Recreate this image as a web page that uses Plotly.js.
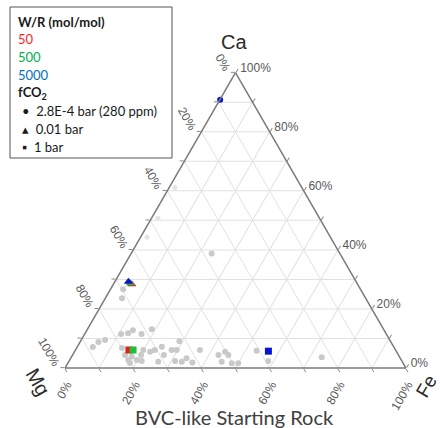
<!DOCTYPE html>
<html>
<head>
<meta charset="utf-8">
<script src="https://cdn.plot.ly/plotly-3.0.1.min.js"></script>
<style>html,body{margin:0;padding:0;background:#fff;}#chart{width:441px;height:428px;}</style>
</head>
<body>
<div id="chart"></div>
<script>
// Background (grey) compositions, percent
const grayCa = [26.7, 23.6, 38.8, 11.5, 11.8, 12.8, 11.5, 13.1, 9.5, 8.8, 7.1, 6.8, 4.4, 3.9, 2.7, 2.7, 6.1, 5.5, 6.1, 4.4, 1.7, 2.4, 2.1, 7.2, 4.4, 6.1, 6.1, 9.1, 2.4, 2.1, 3.3, 1.9, 6.1, 4.4, 5.5, 4.4, 2.1, 1.6, 1.6, 5.8, 2.4, 3.6];
const grayMg = [69.6, 71.5, 37.6, 77.8, 75.6, 73.7, 71.8, 68.0, 83.5, 85.8, 88.3, 79.9, 80.2, 78.5, 77.6, 80.1, 74.0, 72.3, 70.6, 75.5, 80.1, 76.3, 71.6, 68.0, 68.8, 65.7, 64.2, 61.9, 66.5, 64.7, 62.7, 61.7, 57.4, 52.8, 50.3, 49.9, 53.0, 50.3, 48.4, 40.9, 39.2, 22.9];
const grayFe = [3.7, 4.9, 23.6, 10.7, 12.6, 13.5, 16.7, 18.9, 7.0, 5.4, 4.6, 13.3, 15.4, 17.6, 19.7, 17.2, 19.9, 22.2, 23.3, 20.1, 18.2, 21.3, 26.3, 24.8, 26.8, 28.2, 29.7, 29.0, 31.1, 33.2, 34.0, 36.4, 36.5, 42.8, 44.2, 45.7, 44.9, 48.1, 50.0, 53.3, 58.4, 73.5];
// faint background points near the Ca-Mg edge
const faintCa = [61.1, 50.7, 44.3];
const faintMg = [37.2, 47.4, 53.8];
const faintFe = [1.7, 1.9, 1.9];

// Model results: [W/R 50, W/R 500, W/R 5000]
const wrLabels = ['50', '500', '5000'];
const wrColors = ['#e01b1b', '#1fbf3a', '#0a14d0'];
const wrTextColors = ['#ff1f1f', '#00b050', '#0070c0'];
// fCO2 = 2.8E-4 bar (circle) -- only W/R 5000 shown
const circCa = [90.8];
const circMg = [9.1];
const circFe = [0.1];
// fCO2 = 0.01 bar (triangle)
const triCa = [28.4, 28.7, 29.2];
const triMg = [66.2, 66.5, 66.8];
const triFe = [5.4, 4.8, 4.0];
// fCO2 = 1 bar (square)
const sqCa = [6.1, 6.1, 5.7];
const sqMg = [78.2, 77.0, 37.5];
const sqFe = [15.7, 16.9, 56.8];

const tickVals = [0, 10, 20, 30, 40, 50, 60, 70, 80, 90, 100];
const tickText = ['100%', ' ', '80%', ' ', '60%', ' ', '40%', ' ', '20%', ' ', '0%'];

const traces = [];
traces.push({type: 'scatterternary', mode: 'markers', a: faintCa, b: faintMg, c: faintFe,
  marker: {color: '#e4e4e4', size: 5}, hoverinfo: 'skip', showlegend: false, cliponaxis: false});
traces.push({type: 'scatterternary', mode: 'markers', a: grayCa, b: grayMg, c: grayFe,
  marker: {color: '#c9c9c9', size: 6}, showlegend: false, cliponaxis: false});
for (let i = 0; i < 3; i++) {
  traces.push({type: 'scatterternary', mode: 'markers', name: 'W/R ' + wrLabels[i] + ', 1 bar',
    a: [sqCa[i]], b: [sqMg[i]], c: [sqFe[i]],
    marker: {symbol: 'square', color: wrColors[i], size: 7}, showlegend: false, cliponaxis: false});
}
for (let i = 0; i < 3; i++) {
  traces.push({type: 'scatterternary', mode: 'markers', name: 'W/R ' + wrLabels[i] + ', 0.01 bar',
    a: [triCa[i]], b: [triMg[i]], c: [triFe[i]],
    marker: {symbol: 'triangle-up', color: wrColors[i], size: 8}, showlegend: false, cliponaxis: false});
}
traces.push({type: 'scatterternary', mode: 'markers', name: 'W/R 5000, 2.8E-4 bar',
  a: circCa, b: circMg, c: circFe,
  marker: {symbol: 'circle', color: wrColors[2], size: 6}, showlegend: false, cliponaxis: false});

const W = 441, H = 428;
const px = x => x / W, py = y => 1 - y / H;

function axis(angle) {
  return {
    tickmode: 'array', tickvals: tickVals, ticktext: tickText,
    tickangle: angle,
    ticks: 'outside', ticklen: 4, tickcolor: '#8a8a8a', tickwidth: 1,
    tickfont: {family: 'Liberation Sans, Arial, sans-serif', size: 12, color: '#595959'},
    showline: true, linecolor: '#7a7a7a', linewidth: 1.5,
    showgrid: true, gridcolor: '#e1e1e1', gridwidth: 1,
    title: {text: ''}
  };
}

const legendFont = 'Lato, Open Sans, sans-serif';
const legendLines = [
  {t: '<b>W/R (mol/mol)</b>', y: 22, c: '#1a1a1a', x: 16},
  {t: wrLabels[0], y: 39, c: wrTextColors[0], x: 16},
  {t: wrLabels[1], y: 57, c: wrTextColors[1], x: 16},
  {t: wrLabels[2], y: 75, c: wrTextColors[2], x: 16},
  {t: '<b>fCO<sub>2</sub></b>', y: 93, c: '#1a1a1a', x: 16},
  {t: '\u2022  2.8E-4 bar (280 ppm)', y: 111, c: '#1a1a1a', x: 20},
  {t: '\u25B4  0.01 bar', y: 129, c: '#1a1a1a', x: 20},
  {t: '\u25AA  1 bar', y: 147, c: '#1a1a1a', x: 20}
];

const annotations = legendLines.map(l => ({
  text: l.t, xref: 'paper', yref: 'paper', x: px(l.x), y: py(l.y),
  xanchor: 'left', yanchor: 'middle', showarrow: false,
  font: {family: legendFont, size: 13, color: l.c}
}));
annotations.push({text: 'Ca', xref: 'paper', yref: 'paper', x: px(234), y: py(42), xanchor: 'center', yanchor: 'middle',
  showarrow: false, font: {family: 'Liberation Sans, Arial, sans-serif', size: 20, color: '#2a2a2a'}});
annotations.push({text: 'Mg', xref: 'paper', yref: 'paper', x: px(38), y: py(382), xanchor: 'center', yanchor: 'middle',
  textangle: 60, showarrow: false, font: {family: 'Liberation Sans, Arial, sans-serif', size: 20, color: '#2a2a2a'}});
annotations.push({text: 'Fe', xref: 'paper', yref: 'paper', x: px(426), y: py(386), xanchor: 'center', yanchor: 'middle',
  textangle: -60, showarrow: false, font: {family: 'Liberation Sans, Arial, sans-serif', size: 19, color: '#2a2a2a'}});
annotations.push({text: 'BVC-like Starting Rock', xref: 'paper', yref: 'paper', x: px(234), y: py(417), xanchor: 'center', yanchor: 'middle',
  showarrow: false, font: {family: legendFont, size: 20, color: '#404040'}});

const layout = {
  width: W, height: H,
  margin: {l: 0, r: 0, t: 0, b: 0},
  paper_bgcolor: '#ffffff',
  showlegend: false,
  ternary: {
    sum: 100,
    domain: {x: [px(65), px(406)], y: [py(368), py(72.7)]},
    bgcolor: '#ffffff',
    aaxis: axis(60),
    baxis: axis(-60),
    caxis: axis(0)
  },
  shapes: [{type: 'rect', xref: 'paper', yref: 'paper', x0: px(10), x1: px(172), y0: py(158), y1: py(7),
    line: {color: '#555555', width: 1}, fillcolor: 'rgba(255,255,255,0)'}],
  annotations: annotations
};

Plotly.newPlot('chart', traces, layout, {displayModeBar: false, staticPlot: true});
</script>
</body>
</html>
